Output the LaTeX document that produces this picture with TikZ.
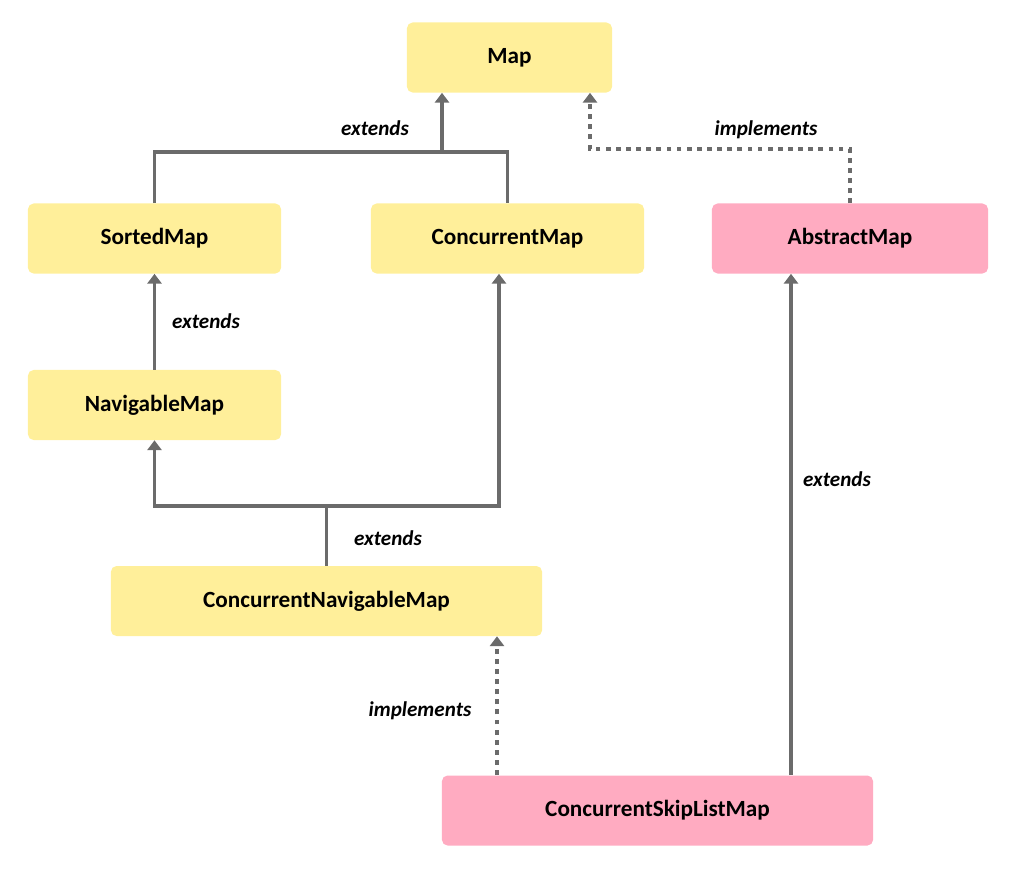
\documentclass[tikz,border=0pt]{standalone}
\usepackage{fontspec}
\setmainfont{Carlito}
\usetikzlibrary{arrows.meta}
\definecolor{ifyellow}{HTML}{FFEF9A}
\definecolor{clpink}{HTML}{FFABC1}
\definecolor{linegray}{HTML}{6B6B6B}
\tikzset{
  box/.style={rounded corners=4pt,minimum height=1.75cm,font=\fontsize{16.5}{19}\selectfont\bfseries,inner sep=0pt},
  iface/.style={box,fill=ifyellow},
  cls/.style={box,fill=clpink},
  ext/.style={draw=linegray,line width=2.4pt},
  impl/.style={ext,dash pattern=on 3.4pt off 3.8pt},
  tip/.style={-{Triangle[width=10pt,length=7pt]}},
  lbl/.style={font=\fontsize{15}{18}\selectfont\bfseries\itshape}
}
\begin{document}
\begin{tikzpicture}[x=0.025cm,y=-0.025cm]
\useasboundingbox (0,0) rectangle (1024,876);
\node[iface,minimum width=5.125cm] (map) at (509.5,57.5) {Map};
\node[iface,minimum width=6.325cm] (sorted) at (154.5,238.5) {SortedMap};
\node[iface,minimum width=6.825cm] (cmap) at (507.5,238.5) {ConcurrentMap};
\node[cls,minimum width=6.9cm] (amap) at (850,238.5) {AbstractMap};
\node[iface,minimum width=6.325cm] (nav) at (154.5,405) {NavigableMap};
\node[iface,minimum width=10.775cm] (cnm) at (326.5,601) {ConcurrentNavigableMap};
\node[cls,minimum width=10.775cm] (cslm) at (657.5,810.5) {ConcurrentSkipListMap};
% joints
\coordinate (j1) at (442,152);
\coordinate (j2) at (590,149);
\coordinate (j3) at (326.5,506);
\coordinate (j4) at (499,506);
\coordinate (j5) at (497,775);
\coordinate (j6) at (791,775);
% SortedMap, ConcurrentMap -> Map
\draw[ext] (sorted.north) |- (j1) -| (cmap.north);
\draw[ext,tip] (j1) -- (j1 |- map.south);
\node[lbl] (l1) at (375,128) {extends};
% AbstractMap -> Map
\draw[impl,tip] (amap.north) |- (j2) -- (j2 |- map.south);
\node[lbl] (l2) at (766,130) {implements};
% NavigableMap -> SortedMap
\draw[ext,tip] (nav) -- (sorted);
\node[lbl] (l3) at (206,321) {extends};
% ConcurrentNavigableMap -> NavigableMap, ConcurrentMap
\draw[ext] (cnm.north) -- (j3);
\draw[ext,tip] (j3) -| (nav.south);
\draw[ext,tip] (j3) -- (j4) -- (j4 |- cmap.south);
\node[lbl] (l4) at (388,538) {extends};
% ConcurrentSkipListMap
\draw[impl,tip] (j5) -- (j5 |- cnm.south);
\node[lbl] (l5) at (420,711) {implements};
\draw[ext,tip] (j6) -- (j6 |- amap.south);
\node[lbl] (l6) at (837,479) {extends};
\end{tikzpicture}
\end{document}
